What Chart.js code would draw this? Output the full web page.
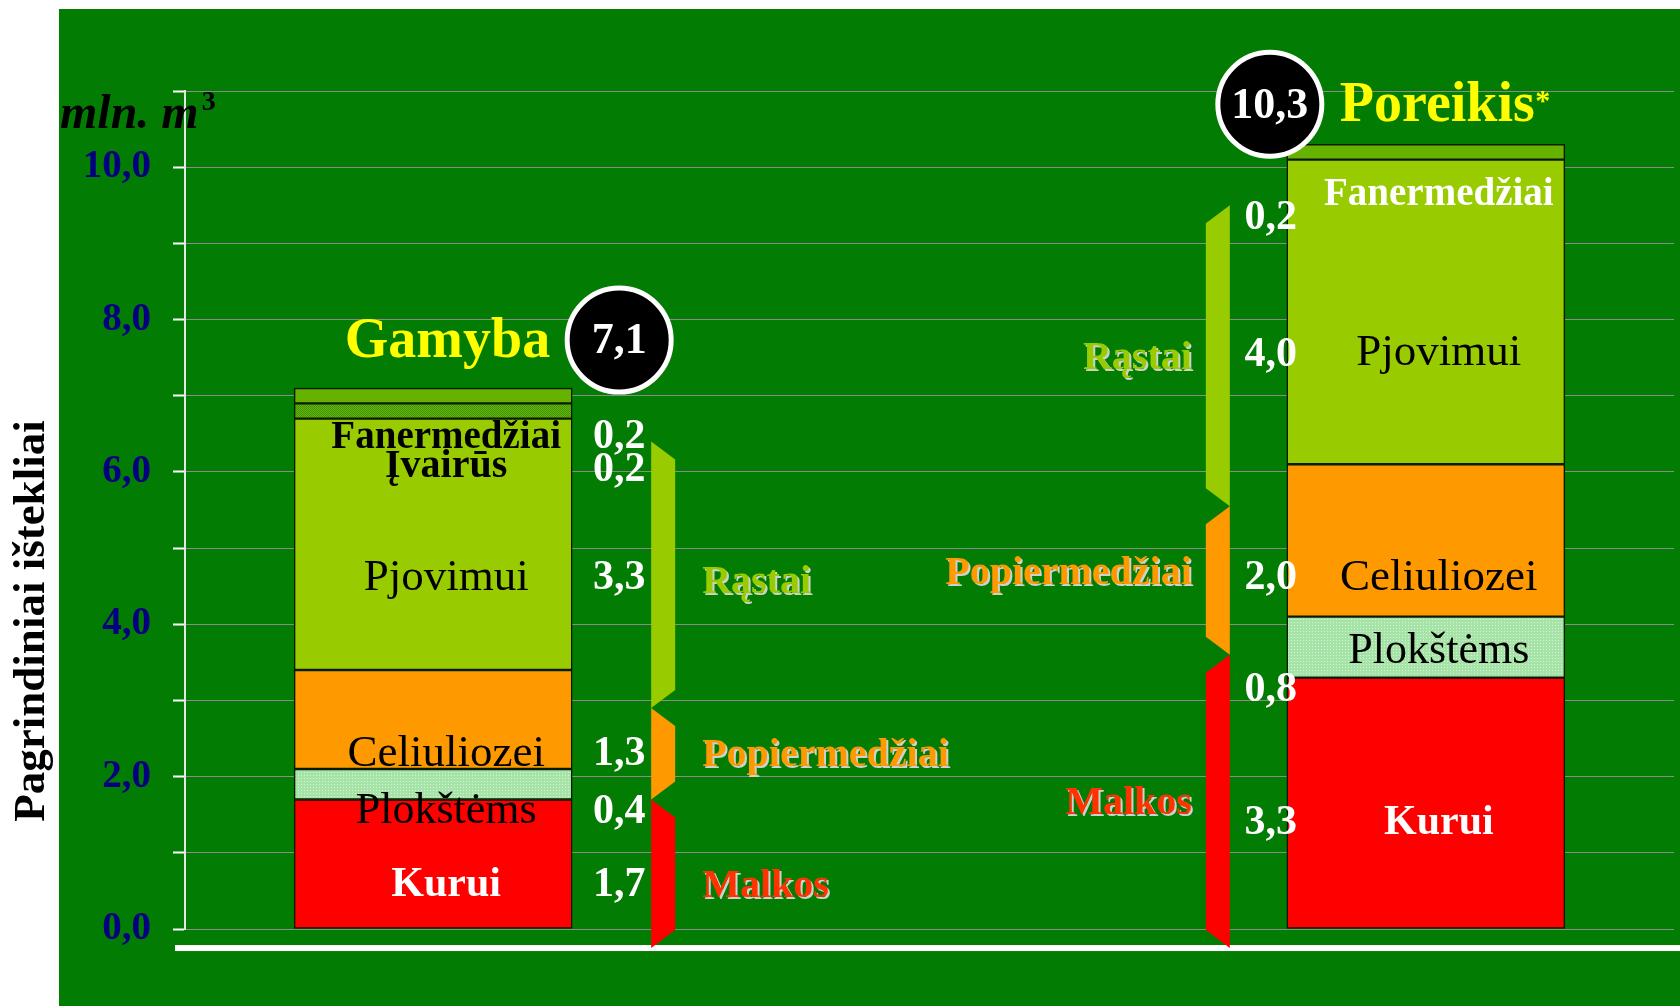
<!DOCTYPE html>
<html>
<head>
<meta charset="utf-8">
<script src="https://cdn.jsdelivr.net/npm/chart.js@4.4.1/dist/chart.umd.min.js"></script>
<style>
  html, body { margin: 0; padding: 0; background: #fff; }
</style>
</head>
<body>
<canvas id="chart" width="1680" height="1006"></canvas>
<script>
const categories = ['Gamyba', '', 'Poreikis'];

const kurui = [1.7, null, 3.3];
const plokstems = [0.4, null, 0.8];
const celiuliozei = [1.3, null, 2.0];
const pjovimui = [3.3, null, 4.0];
const ivairus = [0.2, null, 0];
const fanermedziai = [0.2, null, 0.2];

const yTicks = [0, 2, 4, 6, 8, 10];

// grupės: Malkos, Popiermedžiai, Rąstai (skliaustų ribos, mln. m3)
const groupNames = ['Malkos', 'Popiermedžiai', 'Rąstai'];
const bracketsGamyba = [[-0.25, 1.7], [1.7, 2.9], [2.9, 6.4]];
const bracketsPoreikis = [[-0.25, 3.6], [3.6, 5.55], [5.55, 9.5]];

const SERIF = "'Liberation Serif', 'Times New Roman', serif";
const fmt = v => v.toFixed(1).replace('.', ',');

function pattern(w, h, bg, fg, dots) {
    const c = document.createElement('canvas');
    c.width = w; c.height = h;
    const g = c.getContext('2d');
    g.fillStyle = bg;
    g.fillRect(0, 0, w, h);
    g.fillStyle = fg;
    dots.forEach(d => g.fillRect(d[0], d[1], 1, 1));
    return g.createPattern(c, 'repeat');
}

const ivairusFill = pattern(2, 2, '#6ab400', '#3c9414', [[0, 0], [1, 1]]);
const plokstemsFill = pattern(3, 3, '#a6e3a6', '#d8f4d8', [[1, 1]]);

function txt(ctx, s, x, y, font, color, align, shadow) {
    ctx.save();
    ctx.font = font;
    ctx.fillStyle = color;
    ctx.textAlign = align || 'center';
    ctx.textBaseline = 'middle';
    if (shadow) {
        ctx.shadowColor = 'rgba(215,215,215,0.95)';
        ctx.shadowOffsetX = 2;
        ctx.shadowOffsetY = 2;
        ctx.shadowBlur = 0;
    }
    ctx.fillText(s, x, y);
    ctx.restore();
}

// kur ant y ašies dėti užrašus (reikšmės), pagal stulpelį
const nameAt = {
    0: [0.58, 1.54, 2.30, 4.60, 6.07, 6.45],
    2: [1.39, 3.64, 4.60, 7.56, null, 9.63]
};
const numAt = {
    0: [0.58, 1.54, 2.30, 4.60, 6.02, 6.45],
    2: [1.39, 3.13, 4.60, 7.53, null, 9.33]
};
const nameStyle = [
    ['bold 42px ' + SERIF, '#ffffff'],
    ['44px ' + SERIF, '#000000'],
    ['45px ' + SERIF, '#000000'],
    ['45px ' + SERIF, '#000000'],
    ['bold 40px ' + SERIF, '#000000'],
    ['bold 39px ' + SERIF, '#000000']
];
const groupAt = {
    0: [0.55, 2.27, 4.55],
    2: [1.65, 4.66, 7.49]
};
const groupColors = ['#ff3300', '#ff9900', '#99cc00'];
const bracketColors = ['#ff0000', '#ff9900', '#99cc00'];

const decor = {
    id: 'decor',
    beforeDraw(chart) {
        const ctx = chart.ctx;
        ctx.save();
        ctx.fillStyle = '#ffffff';
        ctx.fillRect(0, 0, chart.width, chart.height);
        ctx.fillStyle = '#027c02';
        ctx.fillRect(59, 9, chart.width - 59, chart.height - 9);
        ctx.restore();
    },
    afterDatasetsDraw(chart) {
        const ctx = chart.ctx;
        const y = chart.scales.y;
        const bar = chart.getDatasetMeta(0).data;

        // balta linija po pagrindu
        ctx.save();
        ctx.fillStyle = '#ffffff';
        ctx.fillRect(175, y.getPixelForValue(-0.25) - 3, chart.width - 175, 6);
        ctx.restore();

        [0, 2].forEach(i => {
            const b = bar[i];
            const left = b.x - b.width / 2, right = b.x + b.width / 2;
            const isLeft = i === 0;

            // segmentų pavadinimai ir reikšmės
            chart.data.datasets.forEach((ds, k) => {
                const v = ds.data[i];
                if (!v) return;
                let [font, color] = nameStyle[k];
                if (i === 2 && k === 5) color = '#ffffff';
                txt(ctx, ds.label, b.x + 13, y.getPixelForValue(nameAt[i][k]), font, color);
                const nx = isLeft ? right + 47 : left - 16;
                txt(ctx, fmt(v), nx, y.getPixelForValue(numAt[i][k]), 'bold 42px ' + SERIF, '#ffffff');
            });

            // skliaustai
            const br = isLeft ? bracketsGamyba : bracketsPoreikis;
            const longX = isLeft ? right + 79 : left - 57;
            const shortX = isLeft ? right + 103 : left - 81;
            const d = 18;
            br.forEach((r, k) => {
                const yTop = y.getPixelForValue(r[1]), yBot = y.getPixelForValue(r[0]);
                ctx.save();
                ctx.fillStyle = bracketColors[k];
                ctx.beginPath();
                ctx.moveTo(longX, yTop);
                ctx.lineTo(shortX, yTop + d);
                ctx.lineTo(shortX, yBot - d);
                ctx.lineTo(longX, yBot);
                ctx.closePath();
                ctx.fill();
                ctx.restore();
                const gx = isLeft ? right + 130 : left - 95;
                txt(ctx, groupNames[k], gx, y.getPixelForValue(groupAt[i][k]),
                    'bold 40px ' + SERIF, groupColors[k], isLeft ? 'left' : 'right', true);
            });

            // suma apskritime
            const total = chart.data.datasets.reduce((a, ds) => a + (ds.data[i] || 0), 0);
            const cx = isLeft ? right + 47 : left - 17;
            const cy = y.getPixelForValue(total) - (isLeft ? 48 : 40);
            ctx.save();
            ctx.beginPath();
            ctx.arc(cx, cy, 52, 0, Math.PI * 2);
            ctx.fillStyle = '#000000';
            ctx.fill();
            ctx.lineWidth = 5;
            ctx.strokeStyle = '#ffffff';
            ctx.stroke();
            ctx.restore();
            txt(ctx, fmt(total), cx, cy + 2, 'bold 44px ' + SERIF, '#ffffff');

            if (isLeft) {
                txt(ctx, categories[i], cx - 69, cy + 2, 'bold 56px ' + SERIF, '#ffff00', 'right');
            } else {
                ctx.save();
                ctx.font = 'bold 56px ' + SERIF;
                const w = ctx.measureText(categories[i]).width;
                ctx.restore();
                txt(ctx, categories[i], cx + 70, cy + 2, 'bold 56px ' + SERIF, '#ffff00', 'left');
                txt(ctx, '*', cx + 70 + w + 8, cy - 2, 'bold 30px ' + SERIF, '#ffff00');
            }
        });
    },
    afterDraw(chart) {
        const ctx = chart.ctx;
        // vienetai
        ctx.save();
        ctx.font = 'bold italic 48px ' + SERIF;
        ctx.fillStyle = '#000000';
        ctx.textBaseline = 'alphabetic';
        ctx.fillText('mln. m', 60, 128);
        const w = ctx.measureText('mln. m').width;
        ctx.font = 'bold 28px ' + SERIF;
        ctx.fillText('3', 60 + w + 3, 110);
        ctx.restore();

        // y ašies pavadinimas
        ctx.save();
        ctx.translate(32, 621);
        ctx.rotate(-Math.PI / 2);
        ctx.font = 'bold 45px ' + SERIF;
        ctx.fillStyle = '#000000';
        ctx.textAlign = 'center';
        ctx.textBaseline = 'middle';
        ctx.fillText('Pagrindiniai ištekliai', 0, 0);
        ctx.restore();
    }
};

const ctx = document.getElementById('chart').getContext('2d');
const chart = new Chart(ctx, {
    type: 'bar',
    data: {
        labels: categories,
        datasets: [
            { label: 'Kurui', data: kurui, backgroundColor: '#ff0000' },
            { label: 'Plokštėms', data: plokstems, backgroundColor: plokstemsFill },
            { label: 'Celiuliozei', data: celiuliozei, backgroundColor: '#ff9900' },
            { label: 'Pjovimui', data: pjovimui, backgroundColor: '#99cc00' },
            { label: 'Įvairūs', data: ivairus, backgroundColor: ivairusFill },
            { label: 'Fanermedžiai', data: fanermedziai, backgroundColor: '#66b200' }
        ]
    },
    options: {
        responsive: false,
        animation: false,
        layout: { padding: { top: 91, bottom: 77, right: 6, left: 0 } },
        datasets: {
            bar: {
                barThickness: 278,
                borderColor: '#0a1a00',
                borderWidth: 1.5,
                borderSkipped: false
            }
        },
        scales: {
            x: {
                stacked: true,
                display: false
            },
            y: {
                stacked: true,
                min: 0,
                max: 11,
                afterFit(scale) { scale.width = 185; },
                afterBuildTicks(scale) {
                    scale.ticks = Array.from({ length: 12 }, (_, v) => ({ value: v }));
                },
                ticks: {
                    padding: 22,
                    color: '#000080',
                    font: { family: SERIF, size: 39, weight: 'bold' },
                    callback: v => yTicks.includes(v) ? fmt(v) : ''
                },
                grid: {
                    color: '#8c8c8c',
                    lineWidth: 1,
                    tickColor: '#ffffff',
                    tickLength: 12,
                    tickWidth: 2
                },
                border: { display: true, color: '#e6e6e6', width: 2 }
            }
        },
        plugins: {
            legend: { display: false },
            tooltip: { enabled: false }
        }
    },
    plugins: [decor]
});
</script>
</body>
</html>
